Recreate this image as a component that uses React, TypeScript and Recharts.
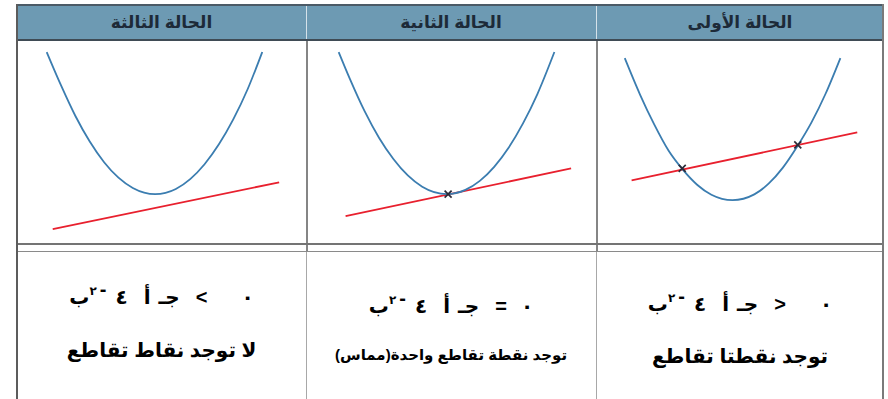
import React from 'react';
import { ComposedChart, Line, Scatter, XAxis, YAxis } from 'recharts';

// every panel is read on a 0..10 grid (x left to right, y bottom to top)
const curveFirst = [
  { x: 0.97, y: 9.2 }, { x: 1.5, y: 7.4 }, { x: 2.0, y: 5.9 }, { x: 2.5, y: 4.6 },
  { x: 3.0, y: 3.65 }, { x: 3.5, y: 2.9 }, { x: 4.0, y: 2.4 }, { x: 4.74, y: 2.13 },
  { x: 5.5, y: 2.42 }, { x: 6.0, y: 2.95 }, { x: 6.5, y: 3.75 }, { x: 7.0, y: 4.8 },
  { x: 7.5, y: 6.0 }, { x: 8.0, y: 7.45 }, { x: 8.51, y: 9.2 },
];
const lineFirst = [{ x: 1.21, y: 3.12 }, { x: 9.1, y: 5.5 }];
const marksFirst = [{ x: 2.98, y: 3.71 }, { x: 7.02, y: 4.88 }];

const curveSecond = [
  { x: 1.1, y: 9.5 }, { x: 1.5, y: 8.13 }, { x: 2.0, y: 6.56 }, { x: 2.5, y: 5.24 },
  { x: 3.0, y: 4.18 }, { x: 3.5, y: 3.36 }, { x: 4.0, y: 2.8 }, { x: 4.86, y: 2.43 },
  { x: 5.5, y: 2.64 }, { x: 6.0, y: 3.09 }, { x: 6.5, y: 3.79 }, { x: 7.0, y: 4.74 },
  { x: 7.5, y: 5.95 }, { x: 8.0, y: 7.41 }, { x: 8.59, y: 9.5 },
];
const lineSecond = [{ x: 1.34, y: 1.34 }, { x: 9.17, y: 3.71 }];
const marksSecond = [{ x: 4.9, y: 2.43 }];

const curveThird = [
  { x: 1.0, y: 9.5 }, { x: 1.5, y: 7.84 }, { x: 2.0, y: 6.32 }, { x: 2.5, y: 5.05 },
  { x: 3.0, y: 4.02 }, { x: 3.5, y: 3.25 }, { x: 4.0, y: 2.74 }, { x: 4.78, y: 2.43 },
  { x: 5.5, y: 2.69 }, { x: 6.0, y: 3.18 }, { x: 6.5, y: 3.92 }, { x: 7.0, y: 4.91 },
  { x: 7.5, y: 6.15 }, { x: 8.0, y: 7.65 }, { x: 8.51, y: 9.5 },
];
const lineThird = [{ x: 1.21, y: 0.69 }, { x: 9.1, y: 3.02 }];
const marksThird: { x: number; y: number }[] = [];

const headers = ['الحالة الأولى', 'الحالة الثانية', 'الحالة الثالثة'];
const signs = ['>', '=', '<'];
const results = ['توجد نقطتا تقاطع', 'توجد نقطة تقاطع واحدة(مماس)', 'لا توجد نقاط تقاطع'];

const curves = [curveFirst, curveSecond, curveThird];
const lines = [lineFirst, lineSecond, lineThird];
const marks = [marksFirst, marksSecond, marksThird];

// column boxes, right to left like the page
const cols = [
  { left: 596, width: 288 },
  { left: 306, width: 290 },
  { left: 17, width: 289 },
];
const textTop = [{ a: 292, b: 344 }, { a: 294, b: 346 }, { a: 285, b: 338 }];

const Cross = (p: any) => {
  const { cx, cy } = p;
  const s = 3.5;
  return (
    <g stroke="#2b2b38" strokeWidth={1.7}>
      <line x1={cx - s} y1={cy - s} x2={cx + s} y2={cy + s} />
      <line x1={cx - s} y1={cy + s} x2={cx + s} y2={cy - s} />
    </g>
  );
};

const Panel = ({ i }: { i: number }) => (
  <ComposedChart width={cols[i].width - 2} height={201} margin={{ top: 0, right: 0, bottom: 0, left: 0 }}>
    <XAxis type="number" dataKey="x" domain={[0, 10]} hide />
    <YAxis type="number" dataKey="y" domain={[0, 10]} hide />
    <Line data={lines[i]} dataKey="y" type="linear" stroke="#e8202e" strokeWidth={1.8} dot={false} isAnimationActive={false} />
    <Line data={curves[i]} dataKey="y" type="monotone" stroke="#3b7db0" strokeWidth={1.8} dot={false} isAnimationActive={false} />
    {marks[i].length > 0 && <Scatter data={marks[i]} dataKey="y" shape={Cross} isAnimationActive={false} />}
  </ComposedChart>
);

// the expression is laid out left to right, token by token
const Equation = ({ sign }: { sign: string }) => (
  <div dir="ltr" style={{ display: 'flex', direction: 'ltr', unicodeBidi: 'isolate', justifyContent: 'center', alignItems: 'baseline', fontSize: 20, fontWeight: 700, color: '#000' }}>
    <span>ب</span>
    <span style={{ fontSize: 12, position: 'relative', top: -9 }}>٢</span>
    <span style={{ position: 'relative', top: -8, marginLeft: 3 }}>-</span>
    <span style={{ marginLeft: 9 }}>٤</span>
    <span style={{ marginLeft: 16 }}>أ</span>
    <span style={{ marginLeft: 8 }}>جـ</span>
    <span dir="ltr" style={{ marginLeft: 16 }}>{sign}</span>
    <span style={{ marginLeft: sign === '=' ? 14 : 34 }}>٠</span>
  </div>
);

export default function App() {
  const font = 'Arial, "DejaVu Sans", sans-serif';
  return (
    <div style={{ position: 'absolute', left: 0, top: 0, width: 888, height: 399, background: '#fff', overflow: 'hidden', fontFamily: font }}>
      {/* header band */}
      <div style={{ position: 'absolute', left: 17, top: 4, width: 867, height: 37, background: '#6d9ab3', borderTop: '2px solid #4b5a66', borderBottom: '2px solid #3f4b55', boxSizing: 'border-box' }} />
      {cols.map((c, i) => (
        <div key={'h' + i} dir="rtl" style={{ position: 'absolute', left: c.left, top: 4, width: c.width, height: 37, display: 'flex', alignItems: 'center', justifyContent: 'center', color: '#1d2a38', fontSize: 17, fontWeight: 700 }}>
          {headers[i]}
        </div>
      ))}
      {/* header dividers */}
      <div style={{ position: 'absolute', left: 306, top: 6, width: 1, height: 33, background: '#d5e2ea' }} />
      <div style={{ position: 'absolute', left: 596, top: 6, width: 1, height: 33, background: '#d5e2ea' }} />

      {cols.map((c, i) => (
        <div key={'p' + i} style={{ position: 'absolute', left: c.left + 1, top: 42, width: c.width - 2, height: 201 }}>
          <Panel i={i} />
        </div>
      ))}

      {/* grid lines */}
      <div style={{ position: 'absolute', left: 306, top: 41, width: 2, height: 211, background: '#858585' }} />
      <div style={{ position: 'absolute', left: 596, top: 41, width: 2, height: 211, background: '#858585' }} />
      <div style={{ position: 'absolute', left: 306, top: 252, width: 1, height: 147, background: '#a8a8a8' }} />
      <div style={{ position: 'absolute', left: 596, top: 252, width: 1, height: 147, background: '#a8a8a8' }} />
      <div style={{ position: 'absolute', left: 17, top: 243, width: 867, height: 2, background: '#747474' }} />
      <div style={{ position: 'absolute', left: 17, top: 251, width: 867, height: 1, background: '#8a8a8a' }} />
      <div style={{ position: 'absolute', left: 16, top: 4, width: 2, height: 395, background: '#5c5c5c' }} />
      <div style={{ position: 'absolute', left: 882, top: 4, width: 2, height: 395, background: '#7a7a7a' }} />

      {cols.map((c, i) => (
        <React.Fragment key={'t' + i}>
          <div style={{ position: 'absolute', left: c.left, top: textTop[i].a, width: c.width }}>
            <Equation sign={signs[i]} />
          </div>
          <div dir="rtl" style={{ position: 'absolute', left: c.left, top: textTop[i].b, width: c.width, textAlign: 'center', fontSize: i === 1 ? 15 : 20, fontWeight: 700, color: '#000' }}>
            {results[i]}
          </div>
        </React.Fragment>
      ))}
    </div>
  );
}
